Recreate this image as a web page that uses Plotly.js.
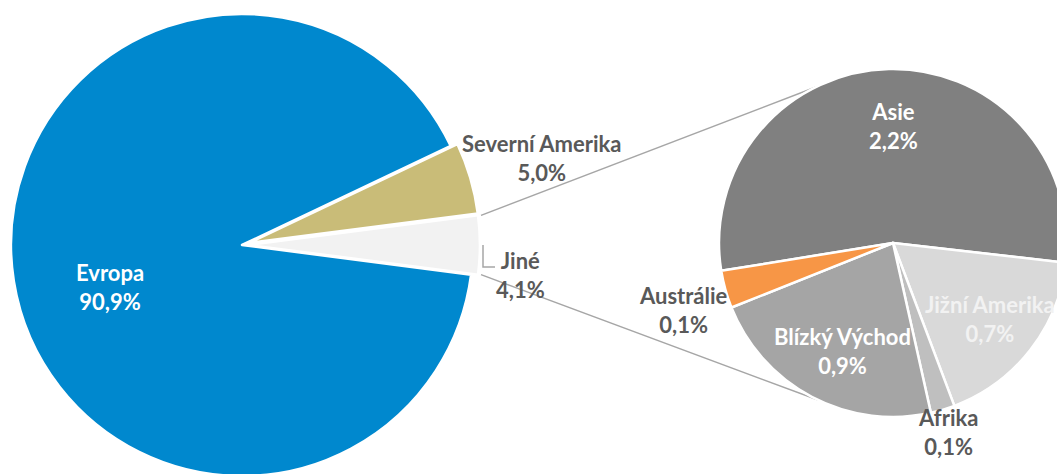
<!DOCTYPE html>
<html>
<head>
<meta charset="utf-8">
<script src="https://cdn.plot.ly/plotly-3.0.1.min.js"></script>
<style>
html,body{margin:0;padding:0;overflow:hidden;background:#ffffff;}
#chart{width:1080px;height:490px;}
</style>
</head>
<body>
<div id="chart"></div>
<script>
// ---- data ----
const mainLabels = ['Evropa', 'Severní Amerika', 'Jiné'];
const mainValues = [90.9, 5.0, 4.1];
const subLabels = ['Asie', 'Jižní Amerika', 'Afrika', 'Blízký Východ', 'Austrálie'];
const subValues = [2.18, 0.70, 0.09, 0.90, 0.14];

// ---- style ----
const mainColors = ['#0088CE', '#C9BC78', '#F2F2F2'];
const subColors = ['#808080', '#D9D9D9', '#BFBFBF', '#A5A5A5', '#F79646'];
const mainPull = [0, 0.03, 0.03];
const mainTextColors = ['#FFFFFF', '#595959', '#595959'];
const subTextColors = ['#FFFFFF', '#F2F2F2', '#595959', '#FFFFFF', '#595959'];
// label offsets from own pie centre, in px
const mainLabelOffsets = [[-132, 42], [299, -87], [278, 30]];
const subLabelOffsets = [[0, -117], [97, 76], [55, 189], [-51, 108], [-210, 67]];

const W = 1080, H = 490;
const mainGeo = {cx: 242, cy: 245, r: 231};
const subGeo = {cx: 893, cy: 243, r: 174, rot: -99.2};
const maxPull = Math.max(...mainPull);
const mainTotal = mainValues.reduce((a, b) => a + b, 0);
const otherIdx = 2;
const mainRot = 90 + mainValues[otherIdx] / mainTotal * 180;

const fmt = v => v.toFixed(1).replace('.', ',') + '%';
const px = x => x / W;
const py = y => 1 - y / H;

function domainFor(g, pullFactor) {
  const h = g.r * (1 + pullFactor);
  return {x: [px(g.cx - h), px(g.cx + h)], y: [py(g.cy + h), py(g.cy - h)]};
}
function polar(g, deg, rr) {
  const a = deg * Math.PI / 180;
  return [g.cx + rr * Math.sin(a), g.cy - rr * Math.cos(a)];
}

const traces = [
  {
    type: 'pie', labels: mainLabels, values: mainValues, sort: false,
    direction: 'clockwise', rotation: mainRot, pull: mainPull,
    marker: {colors: mainColors, line: {color: '#FFFFFF', width: 2.5}},
    textinfo: 'none', hoverinfo: 'label+percent', showlegend: false,
    domain: domainFor(mainGeo, maxPull)
  },
  {
    type: 'pie', labels: subLabels, values: subValues, sort: false,
    direction: 'clockwise', rotation: subGeo.rot,
    marker: {colors: subColors, line: {color: '#FFFFFF', width: 2.5}},
    textinfo: 'none', hoverinfo: 'label+value', showlegend: false,
    domain: domainFor(subGeo, 0)
  }
];

const font = {family: 'Lato, "Open Sans", sans-serif', size: 22, weight: 'bold'};
const annotations = [];
mainLabels.forEach((l, i) => {
  annotations.push({
    xref: 'paper', yref: 'paper', showarrow: false, xanchor: 'center', yanchor: 'middle',
    x: px(mainGeo.cx + mainLabelOffsets[i][0]), y: py(mainGeo.cy + mainLabelOffsets[i][1]),
    text: l + '<br>' + fmt(mainValues[i]),
    font: Object.assign({}, font, {color: mainTextColors[i]})
  });
});
subLabels.forEach((l, i) => {
  annotations.push({
    xref: 'paper', yref: 'paper', showarrow: false, xanchor: 'center', yanchor: 'middle',
    x: px(subGeo.cx + subLabelOffsets[i][0]), y: py(subGeo.cy + subLabelOffsets[i][1]),
    text: l + '<br>' + fmt(subValues[i]),
    font: Object.assign({}, font, {color: subTextColors[i]})
  });
});

// connector lines from the "Jiné" slice corners to the secondary pie
const pullShift = mainPull[otherIdx] * mainGeo.r;
const pulledGeo = {cx: mainGeo.cx + pullShift, cy: mainGeo.cy, r: mainGeo.r};
const half = mainValues[otherIdx] / mainTotal * 180;
const upStart = polar(pulledGeo, 90 - half, mainGeo.r);
const lowStart = polar(pulledGeo, 90 + half, mainGeo.r);
const upEnd = polar(subGeo, 333.5, subGeo.r);
const lowEnd = polar(subGeo, 205.5, subGeo.r);
const lineStyle = {color: '#A6A6A6', width: 1.5};
const shapes = [
  {type: 'line', xref: 'paper', yref: 'paper', layer: 'below',
   x0: px(upStart[0] + 3), y0: py(upStart[1]), x1: px(upEnd[0]), y1: py(upEnd[1]), line: lineStyle},
  {type: 'line', xref: 'paper', yref: 'paper', layer: 'below',
   x0: px(lowStart[0] + 3), y0: py(lowStart[1]), x1: px(lowEnd[0]), y1: py(lowEnd[1]), line: lineStyle},
  {type: 'path', xref: 'paper', yref: 'paper',
   path: 'M ' + px(483) + ' ' + py(245) + ' L ' + px(483) + ' ' + py(267) + ' L ' + px(495) + ' ' + py(267),
   line: lineStyle}
];

const layout = {
  width: W, height: H,
  margin: {l: 0, r: 0, t: 0, b: 0},
  paper_bgcolor: '#FFFFFF', plot_bgcolor: '#FFFFFF',
  showlegend: false,
  annotations: annotations,
  shapes: shapes
};

Plotly.newPlot('chart', traces, layout, {displayModeBar: false, staticPlot: true});
</script>
</body>
</html>
